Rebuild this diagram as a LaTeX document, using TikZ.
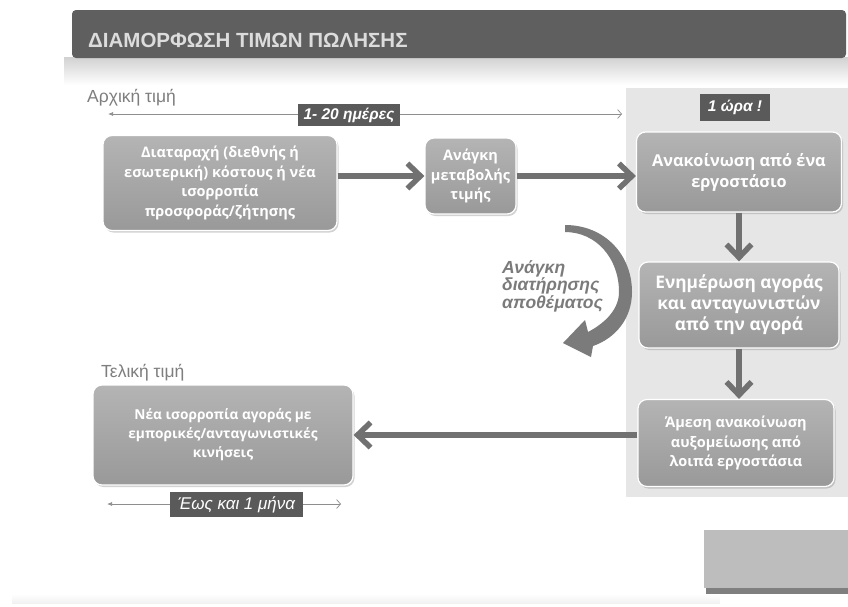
\documentclass[tikz,border=0pt]{standalone}
\usepackage{fontspec}
\setmainfont{Liberation Sans}
\newfontfamily\boxfont{Open Sans}
\usetikzlibrary{arrows.meta,shadows}
\definecolor{titlebar}{HTML}{5F5F5F}
\definecolor{titletext}{HTML}{DCDCDC}
\definecolor{panel}{HTML}{E6E6E6}
\definecolor{boxtop}{HTML}{B4B4B4}
\definecolor{boxbot}{HTML}{999999}
\definecolor{flowgray}{HTML}{717171}
\definecolor{curvegray}{HTML}{7B7B7B}
\definecolor{labgray}{HTML}{5A5A5A}
\definecolor{headgray}{HTML}{7E7E7E}
\definecolor{thingray}{HTML}{8E8E8E}
\definecolor{cornergray}{HTML}{BDBDBD}
\definecolor{cornerdark}{HTML}{7F7F7F}
\tikzset{
  pbox/.style={draw=white, line width=1.2pt, rounded corners=9pt,
    top color=boxtop, bottom color=boxbot,
    drop shadow={shadow xshift=1.5pt, shadow yshift=-2pt, opacity=0.35},
    text=white, align=center, inner sep=2pt,
    font=\boxfont\bfseries\fontsize{14.5}{19.5}\selectfont},
  midtext/.style={font=\boxfont\bfseries\fontsize{16.3}{21}\selectfont},
  bigtext/.style={font=\boxfont\bfseries\fontsize{17.3}{21}\selectfont},
  smalltext/.style={font=\boxfont\bfseries\fontsize{13.7}{19}\selectfont},
  flow/.style={draw=flowgray, line width=5.5pt,
    -{Straight Barb[length=13pt,width=25pt]}},
  thinarrow/.style={draw=thingray, line width=0.7pt,
    {Latex[length=5pt,width=4pt]}-{Straight Barb[length=4pt,width=9pt]}},
  lab/.style={fill=labgray, text=white, inner sep=0pt,
    font=\bfseries\itshape\fontsize{15.5}{17}\selectfont},
  headtext/.style={text=headgray, font=\fontsize{17.5}{21}\selectfont}
}
\begin{document}
\begin{tikzpicture}[x=1pt,y=-1pt]
\useasboundingbox (0,0) rectangle (848,606);
\fill[white] (0,0) rectangle (848,606);
% reflection under title bar
\foreach \i in {0,...,27}{
  \fill[black, opacity={0.18*(1-\i/28)}] (64,57+\i) rectangle (848,58+\i);
}
% title bar
\fill[titlebar, rounded corners=4pt] (72,10) rectangle (846,58);
\node[anchor=base west, text=titletext, inner sep=0pt,
  font=\bfseries\fontsize{20.5}{24}\selectfont] (title) at (88,47.5)
  {ΔΙΑΜΟΡΦΩΣΗ ΤΙΜΩΝ ΠΩΛΗΣΗΣ};
% right panel
\fill[panel] (626,88) rectangle (848,497);
% bottom decorations
\foreach \i in {0,...,9}{
  \fill[black, opacity={0.006*\i}] (12,594+\i) rectangle (720,595+\i);
}
\fill[cornerdark] (706,586) rectangle (848,594);
\fill[cornergray] (704,530) rectangle (848,588);
% headings
\node[headtext, anchor=base west, inner sep=0pt] (start) at (87,102) {Αρχική τιμή};
\node[headtext, anchor=base west, inner sep=0pt] (final) at (101,377) {Τελική τιμή};
% time arrows
\coordinate (ta) at (108,114);
\coordinate (tb) at (622,114);
\draw[thinarrow] (ta) -- (tb);
\node[lab, minimum width=102pt, minimum height=22pt] (l1) at (349,115) {1- 20 ημέρες};
\node[lab, minimum width=70pt, minimum height=27pt] (l2) at (735,107.5) {1 ώρα !};
\coordinate (tc) at (107,504);
\coordinate (td) at (341,504);
\draw[thinarrow] (tc) -- (td);
\node[lab, minimum width=133pt, minimum height=25pt,
  font=\itshape\fontsize{17}{19}\selectfont] (l3) at (236.5,504.5) {Έως και 1 μήνα};
% boxes
\node[pbox, minimum width=234pt, minimum height=95pt] (b1) at (220,183)
  {Διαταραχή (διεθνής ή\\εσωτερική) κόστους ή νέα\\ισορροπία\\προσφοράς/ζήτησης};
\node[pbox, minimum width=91pt, minimum height=76pt] (b2) at (470.5,176)
  {Ανάγκη\\μεταβολής\\τιμής};
\node[pbox, midtext, minimum width=205pt, minimum height=80pt] (b3) at (739,172)
  {Ανακοίνωση από ένα\\εργοστάσιο};
\node[pbox, bigtext, minimum width=200pt, minimum height=86pt] (b4) at (739,305)
  {Ενημέρωση αγοράς\\και ανταγωνιστών\\από την αγορά};
\node[pbox, minimum width=196pt, minimum height=87pt] (b5) at (736,443)
  {Άμεση ανακοίνωση\\αυξομείωσης από\\λοιπά εργοστάσια};
\node[pbox, smalltext, minimum width=260pt, minimum height=100pt] (b6) at (223,435)
  {Νέα ισορροπία αγοράς με\\εμπορικές/ανταγωνιστικές\\κινήσεις};
% flow arrows
\draw[flow] (b1.east |- b2.west) -- (b2.west);
\draw[flow] (b2.east) -- (b2.east -| b3.west);
\draw[flow] (b3.south) -- (b3.south |- b4.north);
\draw[flow] (b4.south) -- (b4.south |- b5.north);
\draw[flow] (b5.west |- b6.east) -- (b6.east);
% curved arrow
\fill[curvegray] (565,225) .. controls (605,225) and (632,255) .. (632,292)
  .. controls (632,318) and (616,338) .. (593,346)
  -- (591,357) -- (563,343) -- (585,320) -- (588,332)
  .. controls (607,322) and (619,308) .. (619,292)
  .. controls (619,258) and (596,232) .. (565,232) -- cycle;
\node[anchor=north west, align=left, inner sep=0pt, text=curvegray,
  font=\bfseries\itshape\fontsize{17.5}{16}\selectfont] (need) at (502,260)
  {Ανάγκη\\διατήρησης\\αποθέματος};
\end{tikzpicture}
\end{document}
